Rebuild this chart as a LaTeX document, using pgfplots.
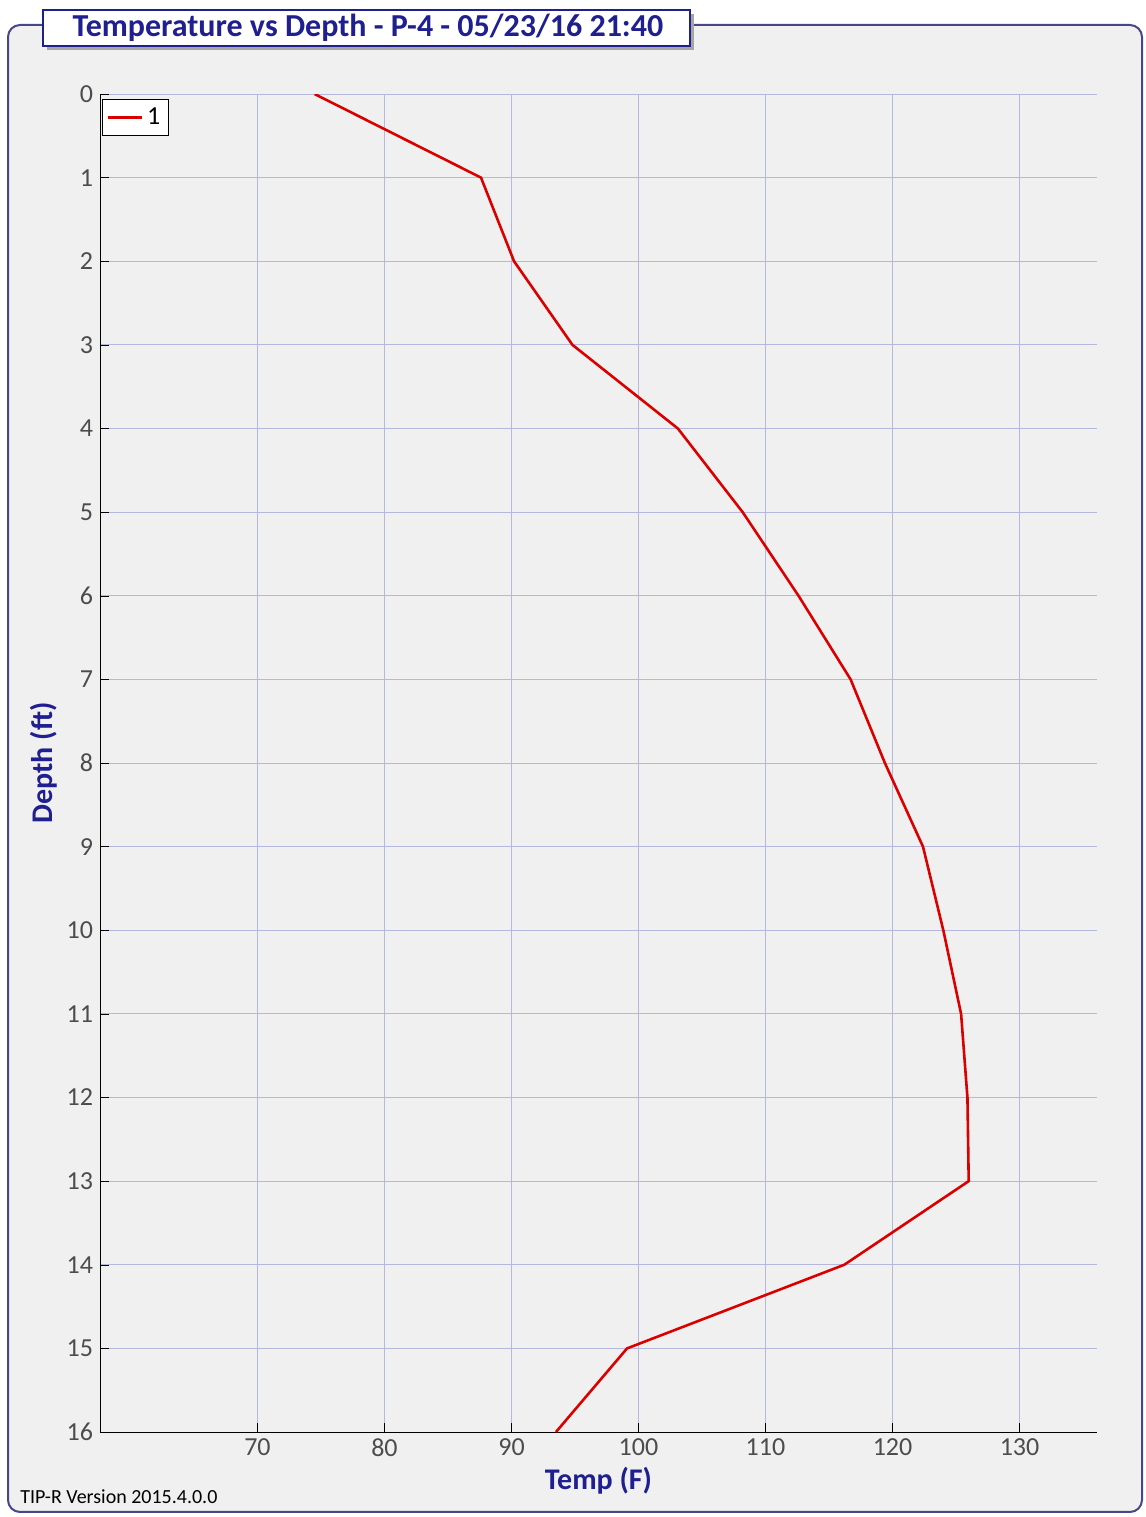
\documentclass[border=0pt]{standalone}
\usepackage{pgfplots}
\pgfplotsset{compat=1.18}
\usepackage{fontspec}
\setmainfont{Carlito}
\definecolor{bg}{HTML}{F0F0F0}
\definecolor{gridc}{HTML}{B4B8DC}
\definecolor{navy}{HTML}{1F1F8F}
\begin{document}
\begin{tikzpicture}
\path[use as bounding box] (0,0) rectangle (573pt,758.5pt);
\draw[fill=bg,draw=navy!60!gray,line width=1pt,rounded corners=6pt] (4pt,2.5pt) rectangle (571pt,746pt);
\fill[gray!70] (23.5pt,733.5pt) rectangle (347pt,751.5pt);
\draw[fill=white,draw=navy,line width=0.8pt] (21.5pt,735.5pt) rectangle (345pt,753.5pt);
\node[font=\fontsize{16}{18}\selectfont\bfseries,text=navy] at (184pt,744.5pt) {Temperature vs Depth - P-4 - 05/23/16 21:40};
\node[anchor=west,font=\fontsize{10}{11}\selectfont,inner sep=0] at (10pt,10pt) {TIP-R Version 2015.4.0.0};
\begin{axis}[at={(50pt,42.5pt)},anchor=south west,scale only axis,
 width=498.5pt,height=669pt,
 xmin=57.6,xmax=136.1,ymin=0,ymax=16,y dir=reverse,
 xtick={70,80,...,130},ytick={0,1,...,16},
 axis x line*=bottom,axis y line*=left,
 axis line style={black,-},
 xmajorgrids,ymajorgrids,major grid style={draw=gridc,line width=0.5pt},
 tick style={black},
 tick label style={font=\fontsize{13}{15}\selectfont,text=black!70},
 /pgf/number format/assume math mode=true,
 xlabel={Temp (F)},ylabel={Depth (ft)},
 label style={font=\fontsize{15}{17}\selectfont\bfseries,text=navy},
 xlabel style={yshift=2pt},ylabel style={yshift=-2pt},
 legend style={at={(0.002,0.996)},anchor=north west,draw=black,fill=white,font=\fontsize{13}{15}\selectfont,inner sep=2pt},
 legend cell align=left,
]
\addplot[red!85!black,line width=1.3pt] coordinates {
(74.5,0)(87.6,1)(90.2,2)(94.8,3)(103.1,4)(108.2,5)(112.6,6)(116.7,7)(119.4,8)(122.4,9)(124.0,10)(125.4,11)(125.9,12)(126.0,13)(116.2,14)(99.1,15)(93.5,16)};
\addlegendentry{1}
\end{axis}
\end{tikzpicture}
\end{document}
